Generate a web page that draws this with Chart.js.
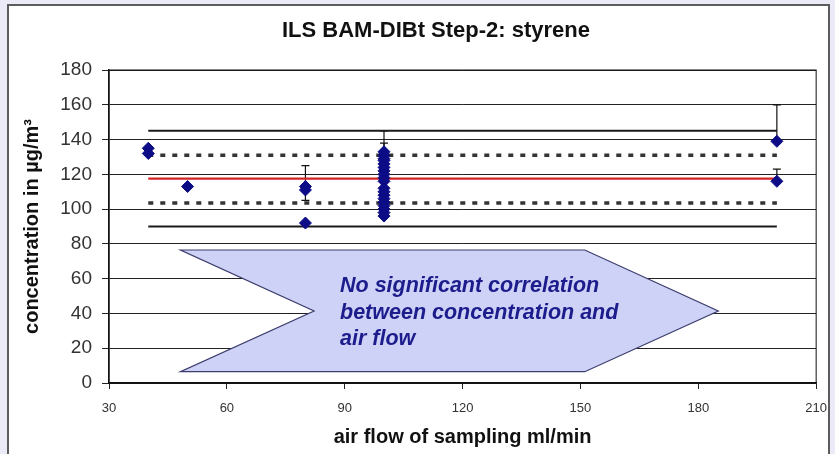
<!DOCTYPE html>
<html>
<head>
<meta charset="utf-8">
<script src="https://cdn.jsdelivr.net/npm/chart.js@4.4.1/dist/chart.umd.min.js"></script>
<style>
  html, body { margin: 0; padding: 0; }
  body { width: 835px; height: 454px; overflow: hidden; position: relative; background: #ebebf7; }
  #frame { position: absolute; left: 7px; top: 4px; width: 819px; height: 470px; background: #fff; border: 2px solid #5c5c5c; }
  #wrap { position: absolute; left: 0; top: 0; width: 839px; height: 454px; }
</style>
</head>
<body>
<div id="frame"></div>
<div id="wrap"><canvas id="chart"></canvas></div>
<script>
// single results: air flow (ml/min) vs. styrene concentration (µg/m³)
const flows = [40, 40, 50, 80, 80, 80,
  100, 100, 100, 100, 100, 100, 100, 100, 100, 100,
  100, 100, 100, 100, 100, 100, 100, 100, 100,
  200, 200];
const concs = [135, 132, 113, 113, 111, 92,
  133, 131, 129, 128, 126, 124, 122, 120, 118, 116,
  112, 110, 108, 106, 104, 102, 100, 98, 96,
  139, 116];

// error bars (low / high ends)
const errFlow = [80, 100, 100, 200, 200];
const errLow = [105, 118, 120, 139, 116];
const errHigh = [125, 138, 145, 160, 123];

// reference levels: mean, +-1 s and +-2 s
const refFrom = 40, refTo = 200;
const refLevels = [145, 131, 117.5, 103.5, 90];
const refStyles = ['solid', 'dashed', 'mean', 'dashed', 'solid'];

// annotation arrow (in axis units)
const arrowX = [48.2, 151.1, 185.1, 151.1, 48.2, 82.2];
const arrowY = [76.5, 76.5, 41.4, 6.5, 6.5, 41.4];
const arrowText = ['No significant correlation', 'between concentration and', 'air flow'];

Chart.defaults.font.family = '"Liberation Sans", Arial, sans-serif';
Chart.defaults.color = '#222';

const lineLook = {
  solid: { borderColor: '#1a1a1a', borderWidth: 2, borderDash: [] },
  dashed: { borderColor: '#333', borderWidth: 3.5, borderDash: [5, 7] },
  mean: { borderColor: '#d42424', borderWidth: 2.2, borderDash: [] },
};

const refSets = refLevels.map((lvl, i) => Object.assign({
  type: 'line',
  data: [{ x: refFrom, y: lvl }, { x: refTo, y: lvl }],
  pointRadius: 0,
  pointHoverRadius: 0,
  fill: false,
}, lineLook[refStyles[i]]));

const arrowPlugin = {
  id: 'arrow',
  beforeDatasetsDraw(chart) {
    const { ctx, scales: { x, y } } = chart;
    ctx.save();
    ctx.beginPath();
    arrowX.forEach((v, i) => {
      const px = x.getPixelForValue(v), py = y.getPixelForValue(arrowY[i]);
      if (i === 0) ctx.moveTo(px, py); else ctx.lineTo(px, py);
    });
    ctx.closePath();
    ctx.fillStyle = '#cdd2f6';
    ctx.fill();
    ctx.strokeStyle = '#3c3c6e';
    ctx.lineWidth = 1.2;
    ctx.stroke();

    ctx.fillStyle = '#1c1c8c';
    ctx.font = 'italic bold 21.5px "Liberation Sans", Arial, sans-serif';
    ctx.textBaseline = 'alphabetic';
    const tx = x.getPixelForValue(88.8);
    const ty = y.getPixelForValue(52.3);
    arrowText.forEach((t, i) => ctx.fillText(t, tx, ty + i * 26.5));

    // error bars, under the markers
    ctx.strokeStyle = '#111';
    ctx.lineWidth = 1.2;
    errFlow.forEach((f, i) => {
      const px = x.getPixelForValue(f);
      const lo = y.getPixelForValue(errLow[i]);
      const hi = y.getPixelForValue(errHigh[i]);
      ctx.beginPath();
      ctx.moveTo(px, lo); ctx.lineTo(px, hi);
      ctx.moveTo(px - 4, lo); ctx.lineTo(px + 4, lo);
      ctx.moveTo(px - 4, hi); ctx.lineTo(px + 4, hi);
      ctx.stroke();
    });
    ctx.restore();
  },
  afterDraw(chart) {
    const { ctx, chartArea: a } = chart;
    ctx.save();
    ctx.strokeStyle = '#111';
    ctx.lineWidth = 1;
    ctx.strokeRect(a.left, a.top, a.right - a.left, a.bottom - a.top);
    ctx.fillStyle = '#111';
    ctx.font = 'bold 22px "Liberation Sans", Arial, sans-serif';
    ctx.textAlign = 'center';
    ctx.textBaseline = 'middle';
    ctx.fillText('ILS BAM-DIBt Step-2: styrene', 436, 31);
    ctx.restore();
  }
};

new Chart(document.getElementById('chart'), {
  type: 'scatter',
  data: {
    datasets: [{
      data: flows.map((f, i) => ({ x: f, y: concs[i] })),
      pointStyle: 'rectRot',
      pointRadius: 6,
      pointHoverRadius: 6,
      backgroundColor: '#0c0c86',
      borderColor: '#0c0c86',
      borderWidth: 1,
    }, ...refSets],
  },
  options: {
    responsive: true,
    maintainAspectRatio: false,
    animation: false,
    layout: { padding: { top: 70, right: 15, bottom: 0, left: 0 } },
    plugins: {
      legend: { display: false },
      tooltip: { enabled: false },
    },
    scales: {
      x: {
        type: 'linear',
        min: 30, max: 210,
        ticks: { stepSize: 30, color: '#333', font: { size: 13 }, padding: 12 },
        grid: { drawOnChartArea: false, color: '#222', tickLength: 6 },
        border: { color: '#111', width: 1.5 },
        title: {
          display: true, text: 'air flow of sampling ml/min', color: '#111',
          font: { size: 20, weight: 'bold' }, padding: { top: 0, bottom: 5 },
        },
        afterFit(s) { s.height = 71; },
      },
      y: {
        min: 0, max: 180,
        ticks: { stepSize: 20, color: '#333', font: { size: 19 }, padding: 10 },
        grid: { color: '#222', tickLength: 7 },
        border: { color: '#111', width: 1.5 },
        title: {
          display: true, text: 'concentration in µg/m³', color: '#111',
          font: { size: 20, weight: 'bold' }, padding: { top: 20, bottom: 0 },
        },
        afterFit(s) { s.width = 109; },
      },
    },
  },
  plugins: [arrowPlugin],
});
</script>
</body>
</html>
